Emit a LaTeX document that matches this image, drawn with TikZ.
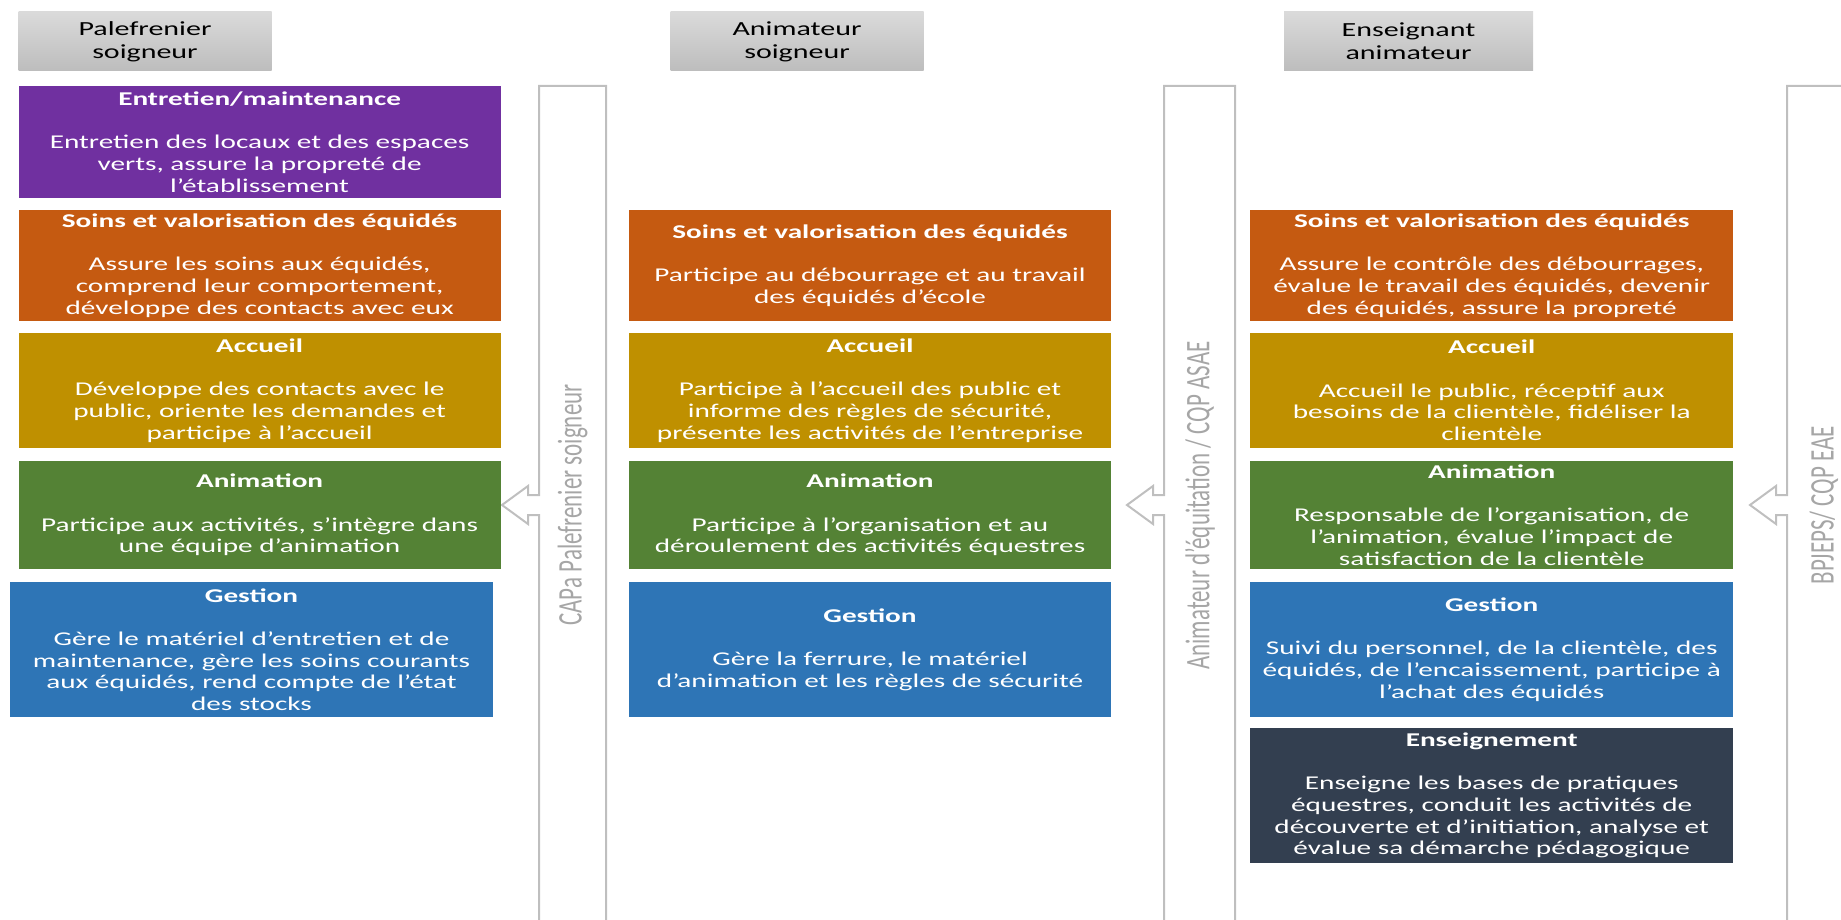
\documentclass[tikz,border=0pt]{standalone}
\usepackage{fontspec}
\usepackage{graphicx}
\setmainfont{Carlito}[FakeStretch=1.5]
\newfontfamily\vfont{Carlito}
\definecolor{cviolet}{HTML}{7030A0}
\definecolor{corange}{HTML}{C55A11}
\definecolor{cgold}{HTML}{BF9000}
\definecolor{cgreen}{HTML}{548235}
\definecolor{cblue}{HTML}{2E75B6}
\definecolor{cnavy}{HTML}{333F50}
\definecolor{hdtop}{HTML}{DADADA}
\definecolor{hdbot}{HTML}{BDBDBD}
\definecolor{bargrey}{HTML}{BFBFBF}
\definecolor{labgrey}{HTML}{A6A6A6}

\begin{document}
\begin{tikzpicture}[x=1pt,y=-1pt,
  box/.style={fill=#1,text=white,inner sep=0pt,align=center,minimum width=482pt,
    font=\fontsize{19.5}{21.7}\selectfont},
  head/.style={top color=hdtop,bottom color=hdbot,minimum width=253pt,minimum height=59pt,
    inner sep=0pt,align=center,font=\fontsize{20}{23.3}\selectfont},
  bar/.style={draw=bargrey,line width=2pt},
  vlab/.style={text=labgrey,inner sep=0pt,font=\vfont\fontsize{23}{27}\selectfont}]
\useasboundingbox (0,0) rectangle (1841,920);
\clip (0,0) rectangle (1841,920);

\node[head] (h1) at (145,41.5) {Palefrenier\\soigneur};
\node[head] (h2) at (797,41.5) {Animateur\\soigneur};
\node[head,minimum width=249pt] (h3) at (1408.5,41.5) {Enseignant\\animateur};

\foreach \xl/\xr in {539/606,1164/1235,1787/1856} {
  \draw[bar] (\xl,925) -- (\xl,515) -- (\xl-11,515) -- (\xl-11,524) -- (\xl-37,505)
    -- (\xl-11,486) -- (\xl-11,495) -- (\xl,495) -- (\xl,86) -- (\xr,86) -- (\xr,925);
}
\node[vlab] (l1) at (572.5,505) {\scalebox{1.5}[1]{\rotatebox{90}{CAPa Palefrenier soigneur}}};
\node[vlab] (l2) at (1200,505.5) {\scalebox{1.5}[1]{\rotatebox{90}{Animateur d’équitation / CQP ASAE}}};
\node[vlab] (l3) at (1824,505) {\scalebox{1.5}[1]{\rotatebox{90}{BPJEPS/ CQP EAE}}};

\node[box=cviolet,minimum height=112pt] (ent1) at (259.6,142) {\textbf{Entretien/maintenance}\\[21.7pt]
  Entretien des locaux et des espaces\\verts, assure la propreté de\\l’établissement};
\node[box=corange,minimum height=111pt] (soins1) at (259.6,265.5) {\textbf{Soins et valorisation des équidés}\\[21.7pt]
  Assure les soins aux équidés,\\comprend leur comportement,\\développe des contacts avec eux};
\node[box=cgold,minimum height=115pt] (acc1) at (259.6,390.5) {\textbf{Accueil}\\[21.7pt]
  Développe des contacts avec le\\public, oriente les demandes et\\participe à l’accueil};
\node[box=cgreen,minimum height=108pt] (anim1) at (259.6,515) {\textbf{Animation}\\[21.7pt]
  Participe aux activités, s’intègre dans\\une équipe d’animation};
\node[box=cblue,minimum height=135pt,minimum width=483pt] (gest1) at (251.5,649.5) {\textbf{Gestion}\\[21.7pt]
  Gère le matériel d’entretien et de\\maintenance, gère les soins courants\\aux équidés, rend compte de l’état\\des stocks};

\node[box=corange,minimum height=111pt] (soins2) at (870,265.5) {\textbf{Soins et valorisation des équidés}\\[21.7pt]
  Participe au débourrage et au travail\\des équidés d’école};
\node[box=cgold,minimum height=115pt] (acc2) at (870,390.5) {\textbf{Accueil}\\[21.7pt]
  Participe à l’accueil des public et\\informe des règles de sécurité,\\présente les activités de l’entreprise};
\node[box=cgreen,minimum height=108pt] (anim2) at (870,515) {\textbf{Animation}\\[21.7pt]
  Participe à l’organisation et au\\déroulement des activités équestres};
\node[box=cblue,minimum height=135pt] (gest2) at (870,649.5) {\textbf{Gestion}\\[21.7pt]
  Gère la ferrure, le matériel\\d’animation et les règles de sécurité};

\node[box=corange,minimum height=111pt,minimum width=483.5pt] (soins3) at (1491.7,265.5) {\textbf{Soins et valorisation des équidés}\\[21.7pt]
  Assure le contrôle des débourrages,\\évalue le travail des équidés, devenir\\des équidés, assure la propreté};
\node[box=cgold,minimum height=115pt,minimum width=483.5pt] (acc3) at (1491.7,390.5) {\textbf{Accueil}\\[21.7pt]
  Accueil le public, réceptif aux\\besoins de la clientèle, fidéliser la\\clientèle};
\node[box=cgreen,minimum height=108pt,minimum width=483.5pt] (anim3) at (1491.7,515) {\textbf{Animation}\\[21.7pt]
  Responsable de l’organisation, de\\l’animation, évalue l’impact de\\satisfaction de la clientèle};
\node[box=cblue,minimum height=135pt,minimum width=483.5pt] (gest3) at (1491.7,649.5) {\textbf{Gestion}\\[21.7pt]
  Suivi du personnel, de la clientèle, des\\équidés, de l’encaissement, participe à\\l’achat des équidés};
\node[box=cnavy,minimum height=135pt,minimum width=483.5pt] (ens3) at (1491.7,795.5) {\textbf{Enseignement}\\[21.7pt]
  Enseigne les bases de pratiques\\équestres, conduit les activités de\\découverte et d’initiation, analyse et\\évalue sa démarche pédagogique};
\end{tikzpicture}
\end{document}
